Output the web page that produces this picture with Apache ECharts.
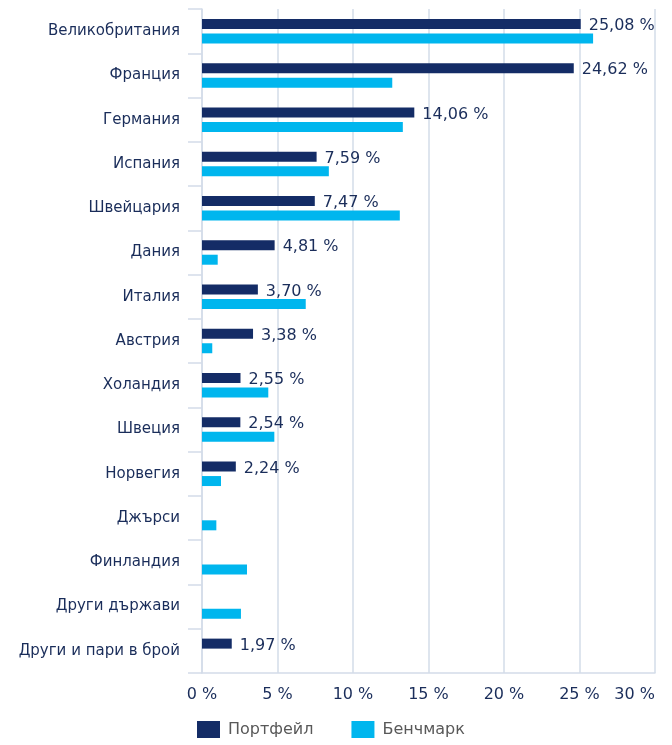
<!DOCTYPE html>
<html>
<head>
<meta charset="utf-8">
<script src="https://cdn.jsdelivr.net/npm/echarts@6/dist/echarts.min.js"></script>
<style>
html,body{margin:0;padding:0;background:#fff;}
#chart{width:672px;height:745px;}
</style>
</head>
<body>
<div id="chart"></div>
<script>
const categories = ['Великобритания','Франция','Германия','Испания','Швейцария','Дания','Италия','Австрия','Холандия','Швеция','Норвегия','Джърси','Финландия','Други държави','Други и пари в брой'];
const portfolio = [25.08, 24.62, 14.06, 7.59, 7.47, 4.81, 3.70, 3.38, 2.55, 2.54, 2.24, null, null, null, 1.97];
const benchmark = [25.9, 12.6, 13.3, 8.4, 13.1, 1.04, 6.87, 0.68, 4.39, 4.79, 1.26, 0.95, 2.98, 2.58, 0];
const xTicks = [0, 5, 10, 15, 20, 25, 30];
const seriesNames = ['Портфейл', 'Бенчмарк'];

const navy = '#142c66';
const cyan = '#00b6ee';
const grid = '#d3dce9';
const textNavy = '#1a2d5a';
const FONT = 'DejaVu Sans';

const chart = echarts.init(document.getElementById('chart'), null, {renderer: 'canvas'});
chart.setOption({
  animation: false,
  textStyle: {fontFamily: FONT},
  grid: {left: 202, right: 17, top: 9, bottom: 72, containLabel: false},
  legend: {
    left: 192, top: 716,
    itemWidth: 23, itemHeight: 17, itemGap: 38,
    icon: 'rect',
    textStyle: {color: '#595959', fontSize: 16, fontFamily: FONT, padding: [0,0,0,3]},
    data: seriesNames
  },
  xAxis: {
    type: 'value',
    min: xTicks[0], max: xTicks[xTicks.length - 1], interval: 5,
    axisLine: {show: true, lineStyle: {color: grid, width: 1.5}},
    axisTick: {show: false},
    splitLine: {show: true, lineStyle: {color: grid, width: 1.5}},
    axisLabel: {
      color: textNavy, fontSize: 16, fontFamily: FONT, margin: 14,
      alignMaxLabel: 'right',
      formatter: v => v + ' %'
    }
  },
  yAxis: {
    type: 'category',
    data: categories,
    inverse: true,
    axisLine: {show: true, lineStyle: {color: grid, width: 1.5}},
    axisTick: {show: true, length: 14, lineStyle: {color: grid, width: 1.5}},
    axisLabel: {color: textNavy, fontSize: 15, fontFamily: FONT, margin: 22}
  },
  series: [
    {
      name: seriesNames[0], type: 'bar', data: portfolio,
      barWidth: 10, barGap: '45%',
      itemStyle: {color: navy},
      label: {
        show: true, position: 'right', distance: 8, offset: [0, 2],
        color: textNavy, fontSize: 16, fontFamily: FONT,
        formatter: p => (p.value == null ? '' : p.value.toFixed(2).replace('.', ',') + ' %')
      }
    },
    {
      name: seriesNames[1], type: 'bar', data: benchmark,
      barWidth: 10,
      itemStyle: {color: cyan}
    }
  ]
});
</script>
</body>
</html>
